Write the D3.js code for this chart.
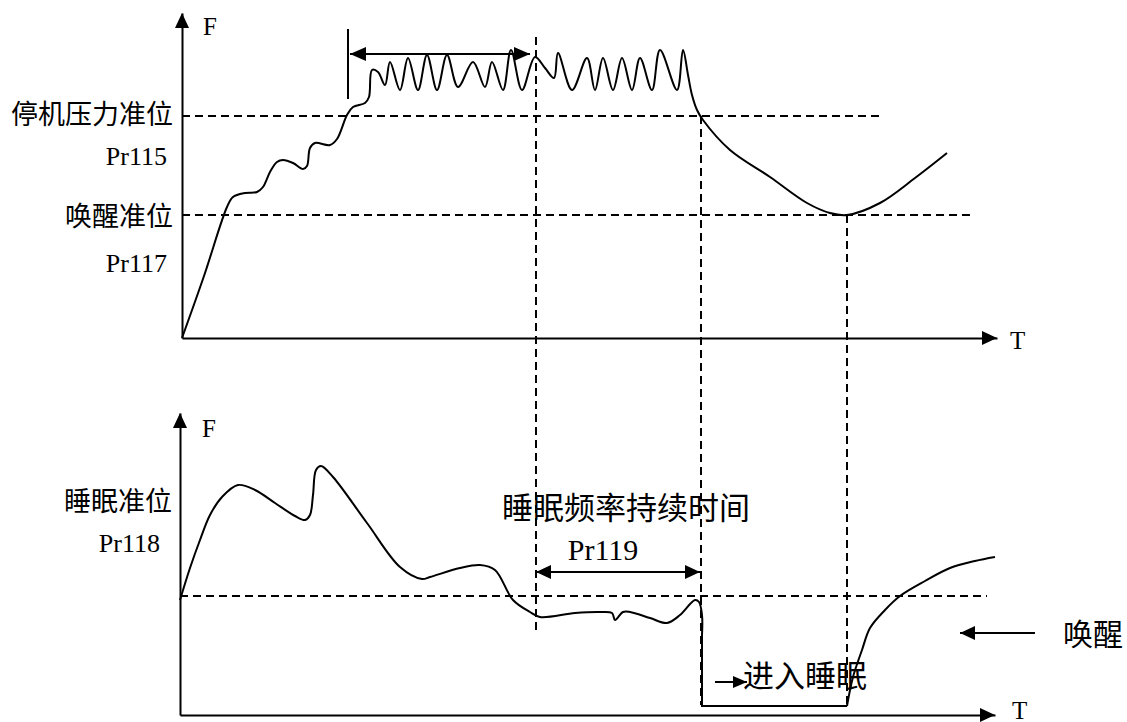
<!DOCTYPE html>
<html>
<head>
<meta charset="utf-8">
<script src="https://cdn.jsdelivr.net/npm/d3@7"></script>
<style>
  body { margin: 0; background: #fff; }
  svg { display: block; }
  text { font-family: "Liberation Serif", "Noto Sans CJK SC", serif; fill: #000; }
</style>
</head>
<body>
<svg id="chart" width="1127" height="722"></svg>
<script>
// pressure curve F(T) in the top panel (T, F)
const pressureCurve = [
  [0, 0], [22, 62], [45, 131], [51, 141], [63, 145], [75, 146], [81, 151], [88, 166],
  [95, 176], [101, 178], [111, 175], [121, 169], [125, 172], [128, 190], [133, 195], [148, 193],
  [155, 199], [165, 223], [171, 231], [183, 235], [187, 241], [190, 268], [196, 266], [203, 253],
  [208, 276], [218, 248], [226, 280], [236, 248], [245, 283], [255, 248], [265, 283], [276, 251],
  [291, 276], [303, 251], [310, 276], [321, 248], [329, 288], [340, 248], [353, 281], [363, 270],
  [372, 260], [376, 285], [390, 248], [405, 280], [413, 248], [421, 280], [431, 248], [440, 280],
  [450, 248], [458, 280], [470, 248], [478, 288], [495, 248], [501, 288], [506, 263], [510, 243],
  [515, 228], [521, 218], [548, 188], [588, 161], [625, 135], [648, 125], [665, 123], [698, 135],
  [733, 160], [765, 185]
];
// frequency curve F(T) in the bottom panel: running, sleeping floor, waking rise
const frequencyRun = [
  [0, 115], [10, 147], [20, 175], [30, 200], [42, 218], [58, 230], [75, 225], [95, 212], [115, 199],
  [125, 195], [130, 200], [133, 220], [136, 245], [141, 249], [153, 238], [187, 192], [220, 148],
  [242, 136], [250, 138], [280, 147], [300, 150], [315, 145], [333, 115], [350, 103], [360, 98],
  [395, 102], [420, 103], [432, 102], [435, 95], [443, 103], [450, 103], [470, 97], [487, 92],
  [500, 100], [515, 115], [519, 113], [522, 100], [522, 80]
];
const sleepFloor = [[522, 80], [522, 9], [667, 9]];
const wakeRise = [
  [667, 9], [673, 38], [682, 65], [690, 87], [705, 105], [720, 119], [745, 134], [770, 147],
  [795, 154], [815, 158]
];

// threshold levels
const topLevels = [
  { name: '停机压力准位', code: 'Pr115', f: 222, tEnd: 698 },
  { name: '唤醒准位', code: 'Pr117', f: 123, tEnd: 793 }
];
const bottomLevels = [
  { name: '睡眠准位', code: 'Pr118', f: 119, tEnd: 807 }
];

// vertical time markers: T, start F on top panel, end F on bottom panel
const markerT = [354, 519, 665];
const markerTopF = [301, 222, 123];
const markerBottomF = [83, 10, 9];

// annotation intervals
const stopSpan = [168, 348];      // top double arrow
const sleepSpan = [356, 520];     // Pr119 double arrow
const annotationLabels = ['睡眠频率持续时间', 'Pr119', '进入睡眠', '唤醒'];
const axisLabels = ['F', 'T'];

const svg = d3.select('#chart');
svg.append('rect').attr('width', 1127).attr('height', 722).attr('fill', '#fff');

const xTop = d3.scaleLinear().domain([0, 815]).range([182, 997]);
const yTop = d3.scaleLinear().domain([0, 325]).range([338, 13]);
const xBot = d3.scaleLinear().domain([0, 815]).range([180, 995]);
const yBot = d3.scaleLinear().domain([0, 302]).range([715, 413]);

function arrowHead(g, x, y, dir, len = 15, half = 7) {
  let pts;
  if (dir === 'up') pts = [[x, y], [x - half, y + len], [x + half, y + len]];
  else if (dir === 'right') pts = [[x, y], [x - len, y - half], [x - len, y + half]];
  else pts = [[x, y], [x + len, y - half], [x + len, y + half]];
  g.append('path').attr('d', 'M' + pts.join('L') + 'Z').attr('fill', '#000');
}

function drawAxes(x, y, fLabelPos, tLabelPos) {
  const g = svg.append('g');
  g.append('g').attr('transform', `translate(0,${y(0)})`)
    .call(d3.axisBottom(x).tickValues([]).tickSizeOuter(0))
    .select('.domain').attr('stroke', '#000').attr('stroke-width', 2);
  g.append('g').attr('transform', `translate(${x(0)},0)`)
    .call(d3.axisLeft(y).tickValues([]).tickSizeOuter(0))
    .select('.domain').attr('stroke', '#000').attr('stroke-width', 2);
  arrowHead(g, x(0), y.range()[1], 'up');
  arrowHead(g, x.range()[1], y(0), 'right');
  g.append('text').attr('x', fLabelPos[0]).attr('y', fLabelPos[1]).attr('font-size', 25).text(axisLabels[0]);
  g.append('text').attr('x', tLabelPos[0]).attr('y', tLabelPos[1]).attr('font-size', 25).text(axisLabels[1]);
}

const dash = '8,5';

// level lines
topLevels.forEach((lv) => {
  svg.append('line')
    .attr('x1', xTop(0)).attr('x2', xTop(lv.tEnd))
    .attr('y1', yTop(lv.f)).attr('y2', yTop(lv.f))
    .attr('stroke', '#000').attr('stroke-width', 2).attr('stroke-dasharray', dash);
});
bottomLevels.forEach((lv) => {
  svg.append('line')
    .attr('x1', xBot(0)).attr('x2', xBot(lv.tEnd))
    .attr('y1', yBot(lv.f)).attr('y2', yBot(lv.f))
    .attr('stroke', '#000').attr('stroke-width', 2).attr('stroke-dasharray', dash);
});

// vertical markers spanning both panels
markerT.forEach((t, i) => {
  svg.append('line')
    .attr('x1', xTop(t)).attr('x2', xTop(t))
    .attr('y1', yTop(markerTopF[i])).attr('y2', yBot(markerBottomF[i]))
    .attr('stroke', '#000').attr('stroke-width', 2).attr('stroke-dasharray', dash);
});

drawAxes(xTop, yTop, [203, 35], [1010, 349]);
drawAxes(xBot, yBot, [202, 437], [1012, 719]);

const curve = d3.curveCatmullRom.alpha(0.5);
const topLine = d3.line().x((d) => xTop(d[0])).y((d) => yTop(d[1])).curve(curve);
const botLine = d3.line().x((d) => xBot(d[0])).y((d) => yBot(d[1])).curve(curve);
svg.append('path').datum(pressureCurve).attr('d', topLine)
  .attr('fill', 'none').attr('stroke', '#000').attr('stroke-width', 2);
svg.append('path').datum(frequencyRun).attr('d', botLine)
  .attr('fill', 'none').attr('stroke', '#000').attr('stroke-width', 2);
svg.append('path').datum(sleepFloor).attr('d', botLine.curve(d3.curveLinear))
  .attr('fill', 'none').attr('stroke', '#000').attr('stroke-width', 2);
svg.append('path').datum(wakeRise).attr('d', botLine.curve(curve))
  .attr('fill', 'none').attr('stroke', '#000').attr('stroke-width', 2);

// left level labels
const labelFont = 27;
[[topLevels[0], 124, 165], [topLevels[1], 226, 272]].forEach(([lv, yName, yCode]) => {
  svg.append('text').attr('x', 173).attr('y', yName).attr('text-anchor', 'end').attr('font-size', labelFont).text(lv.name);
  svg.append('text').attr('x', 167).attr('y', yCode).attr('text-anchor', 'end').attr('font-size', 26).text(lv.code);
});
svg.append('text').attr('x', 172).attr('y', 511).attr('text-anchor', 'end').attr('font-size', labelFont).text(bottomLevels[0].name);
svg.append('text').attr('x', 160).attr('y', 552).attr('text-anchor', 'end').attr('font-size', 26).text(bottomLevels[0].code);

// top interval: tick + double arrow
const ann = svg.append('g');
ann.append('line')
  .attr('x1', xTop(stopSpan[0] - 2)).attr('x2', xTop(stopSpan[0] - 2))
  .attr('y1', yTop(309)).attr('y2', yTop(239))
  .attr('stroke', '#000').attr('stroke-width', 2);
ann.append('line')
  .attr('x1', xTop(stopSpan[0])).attr('x2', xTop(stopSpan[1]))
  .attr('y1', yTop(284)).attr('y2', yTop(284))
  .attr('stroke', '#000').attr('stroke-width', 2);
arrowHead(ann, xTop(stopSpan[0]), yTop(284), 'left', 16, 7);
arrowHead(ann, xTop(stopSpan[1]), yTop(284), 'right', 16, 7);

// Pr119 double arrow
ann.append('line')
  .attr('x1', xBot(sleepSpan[0])).attr('x2', xBot(sleepSpan[1]))
  .attr('y1', yBot(143)).attr('y2', yBot(143))
  .attr('stroke', '#000').attr('stroke-width', 2);
arrowHead(ann, xBot(sleepSpan[0]), yBot(143), 'left', 15, 7);
arrowHead(ann, xBot(sleepSpan[1]), yBot(143), 'right', 15, 7);
ann.append('text').attr('x', 502).attr('y', 519).attr('font-size', 31).text(annotationLabels[0]);
ann.append('text').attr('x', 603).attr('y', 560).attr('text-anchor', 'middle').attr('font-size', 30).text(annotationLabels[1]);

// enter sleep arrow
ann.append('line')
  .attr('x1', xBot(535)).attr('x2', xBot(567))
  .attr('y1', yBot(33)).attr('y2', yBot(33))
  .attr('stroke', '#000').attr('stroke-width', 2);
arrowHead(ann, xBot(567), yBot(33), 'right', 14, 6);
ann.append('text').attr('x', 743).attr('y', 687).attr('font-size', 31).text(annotationLabels[2]);

// wake arrow
ann.append('line')
  .attr('x1', xBot(855)).attr('x2', xBot(780))
  .attr('y1', yBot(82)).attr('y2', yBot(82))
  .attr('stroke', '#000').attr('stroke-width', 2);
arrowHead(ann, xBot(780), yBot(82), 'left', 15, 7);
ann.append('text').attr('x', 1063).attr('y', 645).attr('font-size', 30).text(annotationLabels[3]);
</script>
</body>
</html>
